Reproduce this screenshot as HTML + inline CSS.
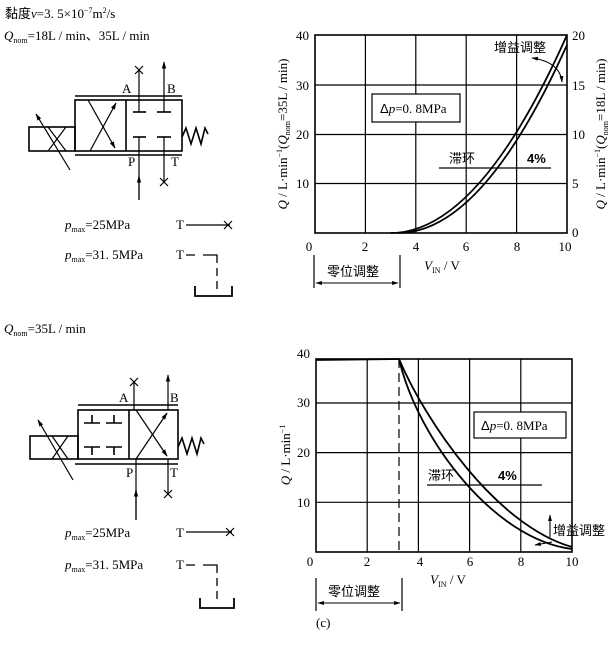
<!DOCTYPE html>
<html><head><meta charset="utf-8"><style>
html,body{margin:0;padding:0;background:#fff;}
svg{display:block;font-family:"Liberation Serif","Noto Serif CJK SC",serif;}
.s{font-family:"Liberation Sans","Noto Sans CJK SC",sans-serif;}
</style></head><body>
<svg width="615" height="648" viewBox="0 0 615 648" xmlns="http://www.w3.org/2000/svg">
<defs>
<marker id="ar" viewBox="0 0 10 10" refX="9" refY="5" markerWidth="6" markerHeight="6" orient="auto-start-reverse"><path d="M0,2 L10,5 L0,8 z" fill="#000"/></marker>
</defs>
<g fill="#000" font-size="13">
<text x="5" y="18"><tspan class="s">黏度</tspan><tspan font-style="italic">ν</tspan>=3. 5×10<tspan font-size="8" dy="-5">−7</tspan><tspan dy="5">m</tspan><tspan font-size="8" dy="-5">2</tspan><tspan dy="5">/s</tspan></text>
<text x="4" y="40"><tspan font-style="italic">Q</tspan><tspan font-size="8" dy="3">nom</tspan><tspan dy="-3">=18L / min</tspan><tspan class="s">、</tspan>35L / min</text>
<text x="4" y="333"><tspan font-style="italic">Q</tspan><tspan font-size="8" dy="3">nom</tspan><tspan dy="-3">=35L / min</tspan></text>
</g>
<!-- schematic 1 -->
<g stroke="#000" fill="none" stroke-width="1.6">
<rect x="29" y="127" width="46" height="24"/>
<rect x="75" y="100" width="107" height="51"/>
<line x1="126" y1="100" x2="126" y2="151"/>
<line x1="75" y1="96" x2="182" y2="96"/>
<line x1="75" y1="155" x2="182" y2="155"/>
<line x1="48" y1="127" x2="66" y2="151" stroke-width="1.2"/>
<line x1="66" y1="127" x2="48" y2="151" stroke-width="1.2"/>
<line x1="70" y1="170" x2="36" y2="114" stroke-width="1.2" marker-end="url(#ar)"/>
<line x1="88" y1="100" x2="115" y2="148" stroke-width="1.2" marker-end="url(#ar)"/>
<line x1="90" y1="151" x2="116" y2="103" stroke-width="1.2" marker-end="url(#ar)"/>
<line x1="139" y1="112" x2="139" y2="70" stroke-width="1.2"/>
<line x1="133" y1="112" x2="146" y2="112"/>
<path d="M135,66 l8,8 M143,66 l-8,8" stroke-width="1.2"/>
<line x1="164" y1="112" x2="164" y2="62" stroke-width="1.2" marker-end="url(#ar)"/>
<line x1="157" y1="112" x2="171" y2="112"/>
<line x1="139" y1="200" x2="139" y2="137" stroke-width="1.2"/>
<line x1="139" y1="200" x2="139" y2="176" stroke-width="1.2" marker-end="url(#ar)"/>
<line x1="133" y1="137" x2="146" y2="137"/>
<line x1="164" y1="137" x2="164" y2="182" stroke-width="1.2"/>
<line x1="157" y1="137" x2="171" y2="137"/>
<path d="M160,178 l8,8 M168,178 l-8,8" stroke-width="1.2"/>
<polyline points="182,137 186,128 191,144 196,128 201,144 205,128 208,134"/>
<line x1="186" y1="225" x2="230" y2="225" stroke-width="1.2"/>
<path d="M224,221 l8,8 M232,221 l-8,8" stroke-width="1.2"/>
<path d="M186,255 h9 M203,255 h14 v8 M217,268 v8 M217,281 v8" stroke-width="1.3"/>
<path d="M195,286 v10 h37 v-10" stroke-width="1.8"/>
</g>
<g font-size="13" fill="#000">
<text x="122" y="93">A</text><text x="167" y="93">B</text>
<text x="128" y="166">P</text><text x="171" y="166">T</text>
<text x="65" y="229"><tspan font-style="italic">p</tspan><tspan font-size="8" dy="3">max</tspan><tspan dy="-3">=25MPa</tspan></text>
<text x="176" y="229">T</text>
<text x="65" y="259"><tspan font-style="italic">p</tspan><tspan font-size="8" dy="3">max</tspan><tspan dy="-3">=31. 5MPa</tspan></text>
<text x="176" y="259">T</text>
</g>
<!-- schematic 2 -->
<g stroke="#000" fill="none" stroke-width="1.6">
<rect x="30" y="436" width="48" height="23"/>
<rect x="78" y="410" width="100" height="49"/>
<line x1="129" y1="410" x2="129" y2="459"/>
<line x1="78" y1="405" x2="178" y2="405"/>
<line x1="75" y1="464" x2="178" y2="464"/>
<line x1="52" y1="436" x2="68" y2="459" stroke-width="1.2"/>
<line x1="68" y1="436" x2="52" y2="459" stroke-width="1.2"/>
<line x1="73" y1="480" x2="38" y2="420" stroke-width="1.2" marker-end="url(#ar)"/>
<path d="M84,423 h16 M92,415 v8 M106,423 h16 M114,415 v8"/>
<path d="M84,447 h16 M92,447 v8 M106,447 h16 M114,447 v8"/>
<line x1="136" y1="410" x2="167" y2="456" stroke-width="1.2" marker-end="url(#ar)"/>
<line x1="136" y1="459" x2="167" y2="413" stroke-width="1.2" marker-end="url(#ar)"/>
<line x1="134" y1="410" x2="134" y2="382" stroke-width="1.2"/>
<path d="M130,378 l8,8 M138,378 l-8,8" stroke-width="1.2"/>
<line x1="168" y1="410" x2="168" y2="375" stroke-width="1.2" marker-end="url(#ar)"/>
<line x1="136" y1="520" x2="136" y2="459" stroke-width="1.2"/>
<line x1="136" y1="520" x2="136" y2="490" stroke-width="1.2" marker-end="url(#ar)"/>
<line x1="168" y1="459" x2="168" y2="494" stroke-width="1.2"/>
<path d="M164,490 l8,8 M172,490 l-8,8" stroke-width="1.2"/>
<polyline points="178,447 182,438 187,454 192,438 197,454 201,438 204,444"/>
<line x1="186" y1="532" x2="232" y2="532" stroke-width="1.2"/>
<path d="M226,528 l8,8 M234,528 l-8,8" stroke-width="1.2"/>
<path d="M186,565 h9 M203,565 h14 v8 M217,578 v8 M217,591 v8" stroke-width="1.3"/>
<path d="M200,598 v10 h34 v-10" stroke-width="1.8"/>
</g>
<g font-size="13" fill="#000">
<text x="119" y="402">A</text><text x="170" y="402">B</text>
<text x="126" y="477">P</text><text x="170" y="477">T</text>
<text x="65" y="537"><tspan font-style="italic">p</tspan><tspan font-size="8" dy="3">max</tspan><tspan dy="-3">=25MPa</tspan></text>
<text x="176" y="537">T</text>
<text x="65" y="569"><tspan font-style="italic">p</tspan><tspan font-size="8" dy="3">max</tspan><tspan dy="-3">=31. 5MPa</tspan></text>
<text x="176" y="569">T</text>
</g>
<!-- chart 1 -->
<g stroke="#000" fill="none">
<g stroke-width="1.2">
<line x1="365.4" y1="35" x2="365.4" y2="233"/><line x1="415.8" y1="35" x2="415.8" y2="233"/>
<line x1="466.2" y1="35" x2="466.2" y2="233"/><line x1="516.6" y1="35" x2="516.6" y2="233"/>
<line x1="315" y1="85" x2="567" y2="85"/><line x1="315" y1="134.5" x2="567" y2="134.5"/><line x1="315" y1="183.5" x2="567" y2="183.5"/>
</g>
<rect x="315" y="35" width="252" height="198" stroke-width="1.6"/>
<rect x="372" y="94" width="88" height="28" fill="#fff" stroke-width="1.2"/>
<path d="M390.6,233 Q478.8,233 567,35" stroke-width="1.8"/>
<path d="M398.2,233 Q482.6,233 567,44.9" stroke-width="1.8"/>
<line x1="439" y1="168" x2="551" y2="168" stroke-width="1.2"/>
<path d="M562,82 Q560,62 532,58" stroke-width="1.1" marker-start="url(#ar)" marker-end="url(#ar)"/>
<path d="M314,255 v33 M400,255 v33" stroke-width="1.2"/>
<line x1="316" y1="283" x2="398" y2="283" stroke-width="1.1" marker-start="url(#ar)" marker-end="url(#ar)"/>
</g>
<g font-size="13" fill="#000">
<g text-anchor="end"><text x="309" y="40">40</text><text x="309" y="90">30</text><text x="309" y="139">20</text><text x="309" y="188">10</text></g>
<text x="572" y="40">20</text><text x="572" y="90">15</text><text x="572" y="139">10</text><text x="572" y="188">5</text><text x="572" y="237">0</text>
<g text-anchor="middle"><text x="309" y="251">0</text><text x="365" y="251">2</text><text x="416" y="251">4</text><text x="466" y="251">6</text><text x="517" y="251">8</text><text x="565" y="251">10</text></g>
<text x="380" y="113" font-size="13"><tspan class="s">Δ</tspan><tspan font-style="italic">p</tspan>=0. 8MPa</text>
<text x="449" y="163" class="s">滞环</text><text x="527" y="163" class="s" font-weight="bold">4%</text>
<text x="494" y="52" class="s">增益调整</text>
<text x="327" y="276" class="s">零位调整</text>
<text x="442" y="270" text-anchor="middle"><tspan font-style="italic">V</tspan><tspan font-size="8" dy="3">IN</tspan><tspan dy="-3"> / V</tspan></text>
<text transform="translate(287,134) rotate(-90)" text-anchor="middle"><tspan font-style="italic">Q</tspan> / L·min<tspan font-size="8" dy="-5">−1</tspan><tspan dy="5">(</tspan><tspan font-style="italic">Q</tspan><tspan font-size="8" dy="3">nom</tspan><tspan dy="-3">=35L / min)</tspan></text>
<text transform="translate(605,134) rotate(-90)" text-anchor="middle"><tspan font-style="italic">Q</tspan> / L·min<tspan font-size="8" dy="-5">−1</tspan><tspan dy="5">(</tspan><tspan font-style="italic">Q</tspan><tspan font-size="8" dy="3">nom</tspan><tspan dy="-3">=18L / min)</tspan></text>
</g>
<!-- chart 2 -->
<g stroke="#000" fill="none">
<g stroke-width="1.2">
<line x1="367.2" y1="359" x2="367.2" y2="552"/><line x1="418.4" y1="359" x2="418.4" y2="552"/>
<line x1="469.6" y1="359" x2="469.6" y2="552"/><line x1="520.8" y1="359" x2="520.8" y2="552"/>
<line x1="316" y1="403" x2="572" y2="403"/><line x1="316" y1="452.6" x2="572" y2="452.6"/><line x1="316" y1="502.3" x2="572" y2="502.3"/>
</g>
<rect x="316" y="359" width="256" height="193" stroke-width="1.6"/>
<line x1="399" y1="359" x2="399" y2="552" stroke-width="1.2" stroke-dasharray="9,5"/>
<line x1="316" y1="360" x2="399" y2="359" stroke-width="1.8"/>
<rect x="474" y="412" width="92" height="26" fill="#fff" stroke-width="1.2"/>
<path d="M399,359 C425,420 495,525 572,547" stroke-width="1.8"/>
<path d="M399,359 C418,440 495,540 572,549" stroke-width="1.8"/>
<line x1="427" y1="485" x2="542" y2="485" stroke-width="1.2"/>
<line x1="550" y1="537" x2="550" y2="515" stroke-width="1.1" marker-end="url(#ar)"/>
<line x1="552" y1="542" x2="535" y2="545" stroke-width="1.1" marker-end="url(#ar)"/>
<path d="M316,578 v33 M402,578 v33" stroke-width="1.2"/>
<line x1="318" y1="603" x2="400" y2="603" stroke-width="1.1" marker-start="url(#ar)" marker-end="url(#ar)"/>
</g>
<g font-size="13" fill="#000">
<g text-anchor="end"><text x="310" y="358">40</text><text x="310" y="407">30</text><text x="310" y="457">20</text><text x="310" y="507">10</text></g>
<g text-anchor="middle"><text x="310" y="566">0</text><text x="367" y="566">2</text><text x="420" y="566">4</text><text x="470" y="566">6</text><text x="521" y="566">8</text><text x="572" y="566">10</text></g>
<text x="481" y="430"><tspan class="s">Δ</tspan><tspan font-style="italic">p</tspan>=0. 8MPa</text>
<text x="428" y="480" class="s">滞环</text><text x="498" y="480" class="s" font-weight="bold">4%</text>
<text x="553" y="535" class="s">增益调整</text>
<text x="328" y="596" class="s">零位调整</text>
<text x="448" y="584" text-anchor="middle"><tspan font-style="italic">V</tspan><tspan font-size="8" dy="3">IN</tspan><tspan dy="-3"> / V</tspan></text>
<text transform="translate(290,455) rotate(-90)" text-anchor="middle"><tspan font-style="italic">Q</tspan> / L·min<tspan font-size="8" dy="-5">−1</tspan></text>
<text x="316" y="627">(c)</text>
</g>
</svg>
</body></html>
